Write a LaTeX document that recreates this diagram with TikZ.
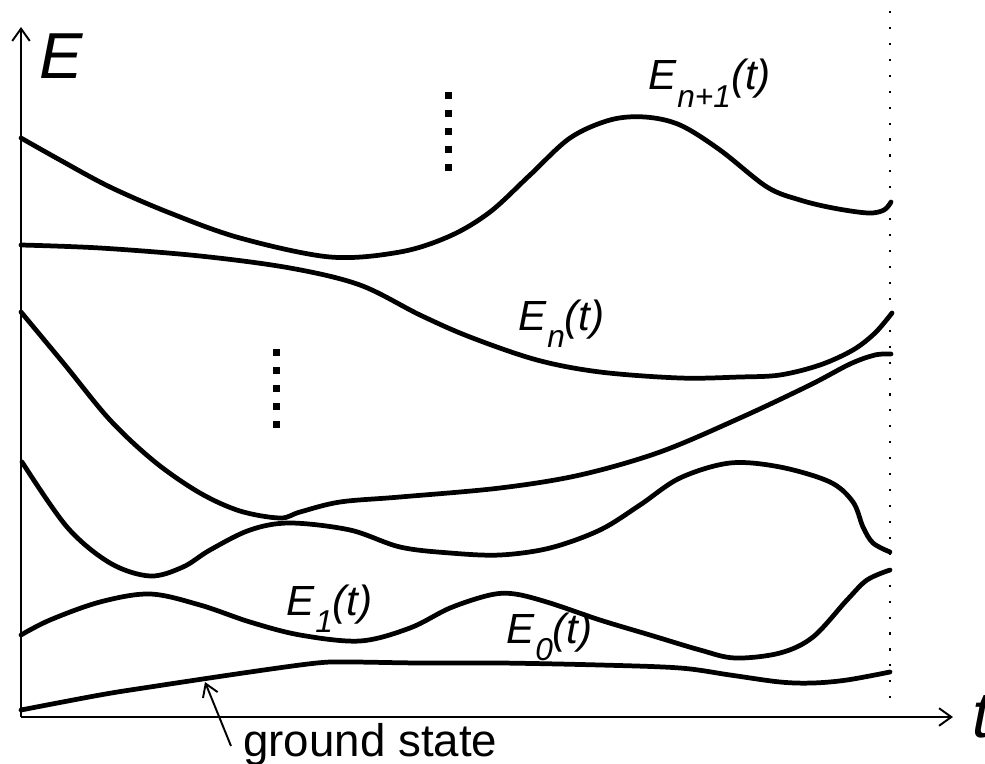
\documentclass[tikz,border=0pt]{standalone}
\usepackage{fontspec}
\setmainfont{Liberation Sans}
\usetikzlibrary{arrows.meta}
\newcommand\Elab[1]{E\kern0.5pt\raisebox{-10pt}{\fontsize{18}{18}\selectfont #1}(t)}
\tikzset{
  axis/.style={line width=1.1pt, -{Straight Barb[length=7pt,width=10pt,line width=1.1pt]}},
  level/.style={line width=2.7pt, line cap=round, smooth, tension=0.55},
  lab/.style={inner sep=0pt, font=\fontsize{24}{26}\selectfont\itshape},
  biglab/.style={inner sep=0pt, font=\fontsize{37}{40}\selectfont\itshape},
  sq/.style={fill=black},
}
\begin{document}
\begin{tikzpicture}[x=0.02cm, y=-0.02cm]
\useasboundingbox (0,0) rectangle (985,764);
% axes
\coordinate (o) at (21,717);
\coordinate (ytop) at (21,27);
\coordinate (xend) at (953,717);
\draw[axis] (o) -- (ytop);
\draw[axis] (o) -- (xend);
\node[biglab] (Elabel) at (61,56.5) {E};
\node[biglab] (tlabel) at (982,717) {t};
% dotted vertical line
\coordinate (dtop) at (890,11);
\coordinate (dbot) at (890,702);
\draw[line width=1.2pt, dash pattern=on 1.2pt off 7.87pt] (dtop) -- (dbot);
% curves
\draw[level] plot coordinates {(21,138) (60,160) (110,187) (170,213) (240,238) (330,257) (400,252) (450,236) (490,212) (530,175) (570,138) (610,120) (645,117) (680,125) (720,150) (767,187) (800,200) (833,208) (868,213) (884,210) (891,202)};
\draw[level] plot coordinates {(21,245) (100,248) (200,256) (290,268) (360,285) (420,315) (470,337) (537,360) (600,372) (680,378) (740,377) (780,375) (820,365) (853,350) (875,333) (892,313)};
\draw[level] plot coordinates {(21,312) (65,365) (110,420) (155,462) (200,493) (240,511) (280,518) (300,512) (340,502) (400,497) (500,488) (580,475) (660,452) (740,418) (810,385) (850,364) (875,355) (891,354)};
\draw[level] plot coordinates {(22,462) (67,527) (110,563) (150,576) (183,567) (210,550) (250,530) (290,523) (350,530) (400,547) (450,553) (500,555) (550,548) (600,530) (640,505) (680,478) (730,463) (780,467) (830,482) (853,502) (863,527) (873,543) (890,552)};
\draw[level] plot coordinates {(21,635) (50,620) (100,602) (150,594) (200,605) (250,622) (300,635) (360,641) (410,628) (450,608) (490,595) (515,594) (550,603) (600,620) (650,635) (700,650) (735,658) (780,653) (813,637) (847,600) (867,580) (890,570)};
\draw[level] plot coordinates {(21,710) (100,695) (150,687) (250,672) (317,663) (350,662) (420,663) (500,663) (600,665) (680,668) (730,675) (780,682) (813,683) (847,680) (890,672)};
% square dots
\foreach \y in {95,113,131,149,167} \fill[sq] (448,\y) ++(-3.5,-3.5) rectangle ++(7,7);
\foreach \y in {352,370,388,406,424} \fill[sq] (276,\y) ++(-3.5,-3.5) rectangle ++(7,7);
% labels
\node[lab, anchor=base west] (en1) at (648,90) {\Elab{n+1}};
\node[lab, anchor=base west] (en) at (518,330) {\Elab{n}};
\node[lab, anchor=base west] (e1) at (286,615) {\Elab{1}};
\node[lab, anchor=base west] (e0) at (506,643) {\Elab{0}};
\node[inner sep=0pt, anchor=base west, font=\fontsize{26}{28}\selectfont] (gsl) at (243,756) {ground state};
\coordinate (gs) at (205,682);
\coordinate (gt) at (231,746);
\draw[line width=1.1pt, -{Straight Barb[length=7pt,width=9pt,line width=1.1pt]}] (gt) -- (gs);
\end{tikzpicture}
\end{document}
